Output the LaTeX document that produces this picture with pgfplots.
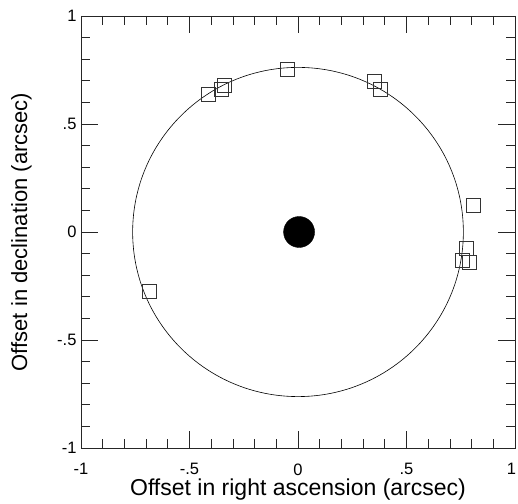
\documentclass[border=0pt]{standalone}
\usepackage{fontspec}
\setmainfont{Liberation Sans}
\usepackage{pgfplots}
\pgfplotsset{compat=1.18}
\begin{document}
\begin{tikzpicture}
\begin{axis}[
  name=ax,
  scale only axis, width=434pt, height=432pt,
  xmin=-1, xmax=1, ymin=-1, ymax=1,
  xtick={-1,-0.5,0,0.5,1}, xticklabels={-1,-.5,0,.5,\makebox[0pt]{\hspace*{-7pt}1}},
  ytick={-1,-0.5,0,0.5,1}, yticklabels={-1,-.5,0,.5,1},
  minor tick num=4,
  tick align=inside,
  xtick pos=both, ytick pos=both,
  xticklabel pos=lower, yticklabel pos=left,
  major tick length=17pt, minor tick length=9pt,
  tick style={black!85, line width=0.7pt},
  axis line style={black!85, line width=0.8pt},
  ticklabel style={font=\fontsize{16.5}{16.5}\selectfont},
  xticklabel style={yshift=-12pt},
  yticklabel style={xshift=-1pt},
  xlabel={Offset in right ascension (arcsec)},
  ylabel={Offset in declination (arcsec)},
  xlabel style={font=\fontsize{23}{23}\selectfont, at={(axis description cs:0.5,-0.097)}, anchor=center},
  ylabel style={font=\fontsize{22}{22}\selectfont, at={(axis description cs:-0.137,0.5)}, anchor=center},
  clip=false,
]
\draw[black, line width=0.6pt] (axis cs:0,0) ellipse [x radius=0.762, y radius=0.762];
\addplot[only marks, mark=*, mark size=15.5pt, black, fill=black] coordinates {(0.005,0)};
\addplot[only marks, mark=square, mark size=7pt, black!80, mark options={line width=0.7pt}] coordinates {
(-0.683,-0.274)
(-0.411,0.637)
(-0.341,0.679)
(-0.351,0.662)
(-0.051,0.753)
(0.352,0.697)
(0.379,0.661)
(0.807,0.122)
(0.777,-0.077)
(0.757,-0.133)
(0.791,-0.140)
};
\end{axis}
\pgfresetboundingbox
\path ([shift={(-81pt,-56pt)}]ax.south west) rectangle ([shift={(3pt,16pt)}]ax.north east);
\end{tikzpicture}
\end{document}
